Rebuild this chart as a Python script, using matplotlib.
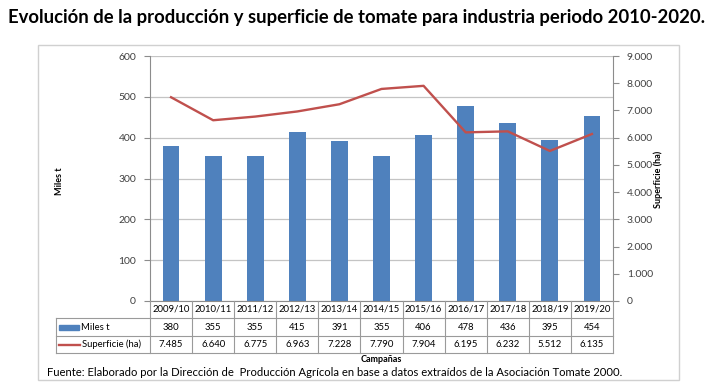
import matplotlib
matplotlib.use("Agg")
import matplotlib.pyplot as plt
from matplotlib.lines import Line2D
from matplotlib.patches import Rectangle
from matplotlib import transforms
from matplotlib.ticker import FuncFormatter, MultipleLocator

campanas = ["2009/10", "2010/11", "2011/12", "2012/13", "2013/14", "2014/15",
            "2015/16", "2016/17", "2017/18", "2018/19", "2019/20"]
miles_t = [380, 355, 355, 415, 391, 355, 406, 478, 436, 395, 454]
superficie = [7485, 6640, 6775, 6963, 7228, 7790, 7904, 6195, 6232, 5512, 6135]

title = "Evolución de la producción y superficie de tomate para industria periodo 2010-2020."
fuente = "Fuente: Elaborado por la Dirección de  Producción Agrícola en base a datos extraídos de la Asociación Tomate 2000."

FONT = ["Lato", "DejaVu Sans"]
plt.rcParams['font.family'] = FONT

W, H = 711, 392
def fx(px): return px / W
def fy(py): return 1 - py / H

BLUE = '#4F81BD'
RED = '#C0504D'
GRID = '#C4C4C4'
AXC = '#8C8C8C'
TXT = '#404040'

def thou(v, pos=None):
    return f"{int(round(v)):,}".replace(",", ".")

fig = plt.figure(figsize=(W / 100, H / 100), dpi=100)
fig.patch.set_facecolor('white')

# outer chart border
fig.add_artist(Rectangle((fx(38), fy(380)), fx(679) - fx(38), fy(45) - fy(380),
                         transform=fig.transFigure, fill=False, edgecolor='#D0D0D0', lw=1))

fig.text(fx(8), fy(18), title, fontsize=13.3, fontweight='bold', ha='left', va='center',
         color='black')

ax = fig.add_axes([fx(150), fy(301), fx(613) - fx(150), fy(56) - fy(301)])
x = list(range(len(campanas)))
ax.bar(x, miles_t, width=0.4, color=BLUE, zorder=2)
ax.set_xlim(-0.5, len(campanas) - 0.5)
ax.set_ylim(0, 600)
ax.yaxis.set_major_locator(MultipleLocator(100))
ax.yaxis.grid(True, color=GRID, lw=0.9)
ax.set_axisbelow(True)
ax.set_xticks([])
ax.tick_params(axis='y', length=4, width=0.8, color=AXC, pad=6, labelsize=7.5, labelcolor=TXT)
ax.spines['top'].set_visible(False)
ax.spines['left'].set_color(AXC)
ax.spines['bottom'].set_color(AXC)
ax.spines['right'].set_visible(False)
ax.spines['left'].set_linewidth(0.8)
ax.spines['bottom'].set_linewidth(0.8)

ax2 = ax.twinx()
ax2.plot(x, superficie, color=RED, lw=1.7, zorder=3)
ax2.set_ylim(0, 9000)
ax2.yaxis.set_major_locator(MultipleLocator(1000))
ax2.yaxis.set_major_formatter(FuncFormatter(thou))
ax2.tick_params(axis='y', length=4, width=0.8, color=AXC, pad=6, labelsize=7.5, labelcolor=TXT)
for s in ['top', 'left', 'bottom']:
    ax2.spines[s].set_visible(False)
ax2.spines['right'].set_color(AXC)
ax2.spines['right'].set_linewidth(0.8)

fig.text(fx(60), fy(181), "Miles t", rotation=90, fontsize=6.5, fontweight='bold',
         ha='center', va='center')
fig.text(fx(658), fy(179), "Superficie (ha)", rotation=90, fontsize=6.5, fontweight='bold',
         ha='center', va='center')

# data table
tr = transforms.blended_transform_factory(ax.transData, fig.transFigure)
TB = '#9A9A9A'
r0, r1, r2, r3 = 301, 318, 336, 353
n = len(campanas)
for b in [i - 0.5 for i in range(n + 1)]:
    fig.add_artist(Line2D([b, b], [fy(r0), fy(r3)], transform=tr, color=TB, lw=0.8))
for r in [r1, r2, r3]:
    fig.add_artist(Line2D([fx(56), fx(613)], [fy(r), fy(r)], transform=fig.transFigure,
                          color=TB, lw=0.8))
fig.add_artist(Line2D([fx(56), fx(56)], [fy(r1), fy(r3)], transform=fig.transFigure,
                      color=TB, lw=0.8))
for i in range(n):
    fig.text(i, fy((r0 + r1) / 2), campanas[i], transform=tr, fontsize=6.8,
             ha='center', va='center', color='black')
    fig.text(i, fy((r1 + r2) / 2), str(miles_t[i]), transform=tr, fontsize=6.8,
             ha='center', va='center', color='black')
    fig.text(i, fy((r2 + r3) / 2), thou(superficie[i]), transform=tr, fontsize=6.8,
             ha='center', va='center', color='black')

# legend keys in table
fig.add_artist(Rectangle((fx(59), fy(329.5)), fx(79) - fx(59), fy(324.5) - fy(329.5),
                         transform=fig.transFigure, color=BLUE))
fig.text(fx(81), fy((r1 + r2) / 2), "Miles t", fontsize=6.8, ha='left', va='center')
fig.add_artist(Line2D([fx(59), fx(80)], [fy(344.5), fy(344.5)], transform=fig.transFigure,
                      color=RED, lw=1.7))
fig.text(fx(82), fy((r2 + r3) / 2), "Superficie (ha)", fontsize=6.8, ha='left', va='center')

fig.text(fx(381), fy(359), "Campañas", fontsize=6.5, fontweight='bold', ha='center', va='center')
fig.text(fx(47), fy(373), fuente, fontsize=8.15, ha='left', va='center', color='black')

fig.savefig("out.png", dpi=100, facecolor='white')
